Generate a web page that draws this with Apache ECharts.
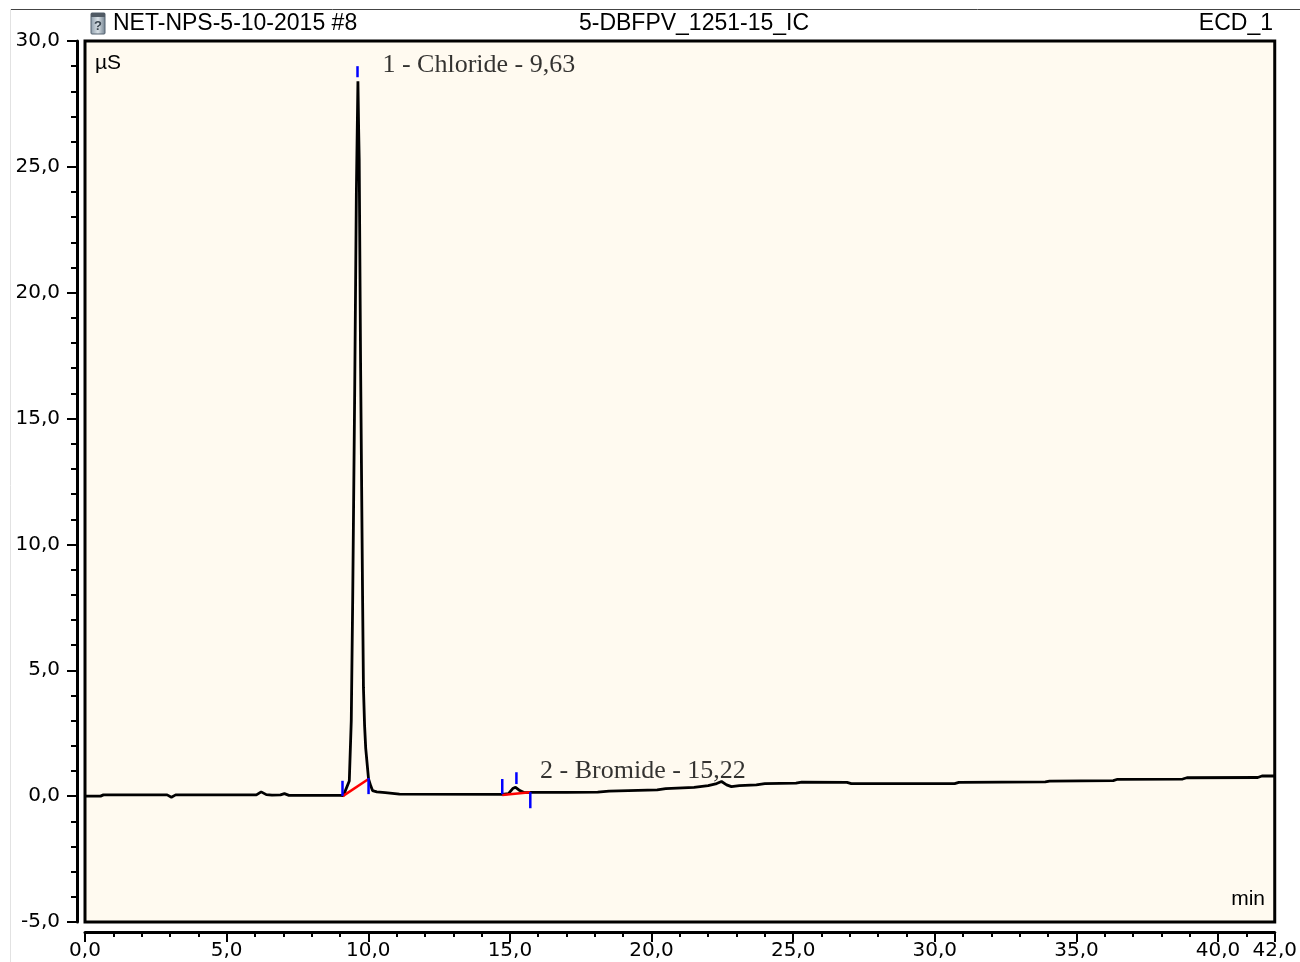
<!DOCTYPE html>
<html>
<head>
<meta charset="utf-8">
<title>NET-NPS-5-10-2015 #8</title>
<script src="https://cdn.jsdelivr.net/npm/echarts@6/dist/echarts.min.js"></script>
<style>
  html, body { margin: 0; padding: 0; background: #fff; }
  #chart { width: 1300px; height: 962px; }
</style>
</head>
<body>
<div id="chart"></div>
<script>
// chromatogram trace: retention time (min) / conductivity (µS)
const times = [0.0, 0.55, 0.65, 2.9, 3.05, 3.2, 6.05, 6.22, 6.4, 6.6, 6.9, 7.04, 7.2, 9.0, 9.12,
  9.33, 9.4, 9.45, 9.52, 9.58, 9.635, 9.66, 9.68, 9.73, 9.8, 9.83, 9.87, 9.91, 10.01, 10.09, 10.15,
  10.3, 10.6, 11.1, 14.73, 14.95, 15.1, 15.2, 15.35, 15.5, 15.72, 17.0, 18.1, 18.5, 20.2, 20.5,
  21.5, 22.0, 22.3, 22.47, 22.65, 22.82, 23.1, 23.7, 24.0, 25.1, 25.3, 26.9, 27.05, 30.7, 30.85,
  33.9, 34.05, 36.3, 36.45, 38.75, 38.9, 41.4, 41.55, 42.0];
const signal = [0.0, 0.0, 0.05, 0.05, -0.04, 0.05, 0.05, 0.17, 0.06, 0.04, 0.05, 0.1, 0.03, 0.03, 0.02,
  0.6, 3.0, 7.8, 16.0, 24.0, 28.4, 26.5, 25.3, 17.0, 7.8, 4.3, 2.8, 1.9, 0.68, 0.4, 0.22,
  0.17, 0.14, 0.08, 0.07, 0.1, 0.3, 0.35, 0.22, 0.14, 0.15, 0.15, 0.16, 0.2, 0.25, 0.3,
  0.35, 0.42, 0.5, 0.58, 0.45, 0.38, 0.42, 0.45, 0.5, 0.52, 0.56, 0.55, 0.5, 0.5, 0.55,
  0.57, 0.6, 0.62, 0.67, 0.68, 0.73, 0.74, 0.8, 0.8];

// identified peaks
const peakNames = ['1 - Chloride - 9,63', '2 - Bromide - 15,22'];
const peakTimes = [9.635, 15.2];
const peakHeights = [28.4, 0.35];

// integration baselines (red): [t start, y start, t end, y end]
const baselines = [[9.10, 0.0, 10.01, 0.68], [14.73, 0.05, 15.72, 0.15]];

// peak delimiters (blue): [t, y low, y high]
const delimiters = [[9.09, 0.01, 0.61], [10.01, 0.08, 0.72], [9.62, 28.56, 29.0],
  [14.73, 0.08, 0.68], [15.23, 0.48, 0.95], [15.72, -0.48, 0.16]];

const fmt = v => v.toFixed(1).replace('.', ',');

const chart = echarts.init(document.getElementById('chart'));

const option = {
  backgroundColor: '#fff',
  animation: false,
  grid: {
    left: 85, right: 21, top: 41, bottom: 40,
    show: true,
    backgroundColor: '#fffaf0',
    borderColor: '#000',
    borderWidth: 3
  },
  xAxis: [
    {
      type: 'value', min: 0, max: 42, interval: 5,
      position: 'bottom', offset: 10,
      axisLine: { show: true, onZero: false, lineStyle: { color: '#000', width: 3 } },
      axisTick: { show: true, length: 10, lineStyle: { color: '#000', width: 2 } },
      axisLabel: { formatter: fmt, color: '#000', fontFamily: 'DejaVu Sans', fontSize: 20, margin: 9 },
      splitLine: { show: false }
    },
    {
      // minor ticks every minute
      type: 'value', min: 0, max: 42, interval: 1,
      position: 'bottom', offset: 10,
      axisLine: { show: false, onZero: false },
      axisTick: { show: true, length: 5, lineStyle: { color: '#000', width: 2 } },
      axisLabel: { show: false },
      splitLine: { show: false }
    }
  ],
  yAxis: {
    type: 'value', min: -5, max: 30, interval: 5,
    position: 'left', offset: 8,
    axisLine: { show: true, onZero: false, lineStyle: { color: '#000', width: 3 } },
    axisTick: { show: true, length: 10, lineStyle: { color: '#000', width: 2 } },
    minorTick: { show: true, splitNumber: 5, length: 6, lineStyle: { color: '#000', width: 2 } },
    axisLabel: { formatter: fmt, color: '#000', fontFamily: 'DejaVu Sans', fontSize: 20, margin: 17 },
    splitLine: { show: false }
  },
  series: [
    {
      type: 'line',
      data: times.map((t, i) => [t, signal[i]]),
      symbol: 'none',
      lineStyle: { color: '#000', width: 2.8 },
      z: 2
    },
    {
      type: 'custom',
      data: baselines,
      renderItem: function (params, api) {
        const a = api.coord([api.value(0), api.value(1)]);
        const b = api.coord([api.value(2), api.value(3)]);
        return {
          type: 'line',
          shape: { x1: a[0], y1: a[1], x2: b[0], y2: b[1] },
          style: { stroke: '#ff0000', lineWidth: 2.5 }
        };
      },
      z: 3
    },
    {
      type: 'custom',
      data: delimiters,
      renderItem: function (params, api) {
        const a = api.coord([api.value(0), api.value(1)]);
        const b = api.coord([api.value(0), api.value(2)]);
        return {
          type: 'line',
          shape: { x1: a[0], y1: a[1], x2: b[0], y2: b[1] },
          style: { stroke: '#0000ff', lineWidth: 2.5 }
        };
      },
      z: 4
    },
    {
      type: 'scatter',
      data: peakTimes.map((t, i) => [t, peakHeights[i], peakNames[i]]),
      symbolSize: 1,
      itemStyle: { color: 'rgba(0,0,0,0)' },
      label: {
        show: true,
        position: 'right',
        distance: 24,
        offset: [0, -16],
        formatter: p => p.data[2],
        color: '#000',
        fontFamily: 'Liberation Serif',
        fontSize: 26
      },
      z: 5
    }
  ],
  graphic: [
    { type: 'line', shape: { x1: 10, y1: 9.5, x2: 1300, y2: 9.5 }, style: { stroke: '#444', lineWidth: 1 } },
    { type: 'line', shape: { x1: 10.5, y1: 9, x2: 10.5, y2: 962 }, style: { stroke: '#e2e2e2', lineWidth: 1 } },
    // sample icon
    {
      type: 'rect', shape: { x: 91, y: 13, width: 14, height: 21, r: 1 },
      style: {
        fill: new echarts.graphic.LinearGradient(0, 0, 1, 0, [
          { offset: 0, color: '#8a9aa8' }, { offset: 0.5, color: '#d8e0e6' }, { offset: 1, color: '#6d7d8b' }
        ]),
        stroke: '#556370', lineWidth: 1
      }
    },
    { type: 'rect', shape: { x: 91, y: 13, width: 14, height: 4 }, style: { fill: '#505a64' } },
    { type: 'text', x: 98, y: 26, style: { text: '?', fill: '#3a4650', font: 'bold 13px "Liberation Sans"', align: 'center', verticalAlign: 'middle' } },
    { type: 'text', x: 113, y: 24, style: { text: 'NET-NPS-5-10-2015 #8', fill: '#000', font: '23px "Liberation Sans"', verticalAlign: 'middle' } },
    { type: 'text', x: 694, y: 24, style: { text: '5-DBFPV_1251-15_IC', fill: '#000', font: '23px "Liberation Sans"', align: 'center', verticalAlign: 'middle' } },
    { type: 'text', x: 1273, y: 24, style: { text: 'ECD_1', fill: '#000', font: '23px "Liberation Sans"', align: 'right', verticalAlign: 'middle' } },
    { type: 'text', x: 95, y: 63, z: 10, style: { text: 'µS', fill: '#000', font: '21px "Liberation Sans"', verticalAlign: 'middle' } },
    { type: 'text', x: 1265, y: 899, z: 10, style: { text: 'min', fill: '#000', font: '21px "Liberation Sans"', align: 'right', verticalAlign: 'middle' } }
  ]
};

chart.setOption(option);
</script>
</body>
</html>
